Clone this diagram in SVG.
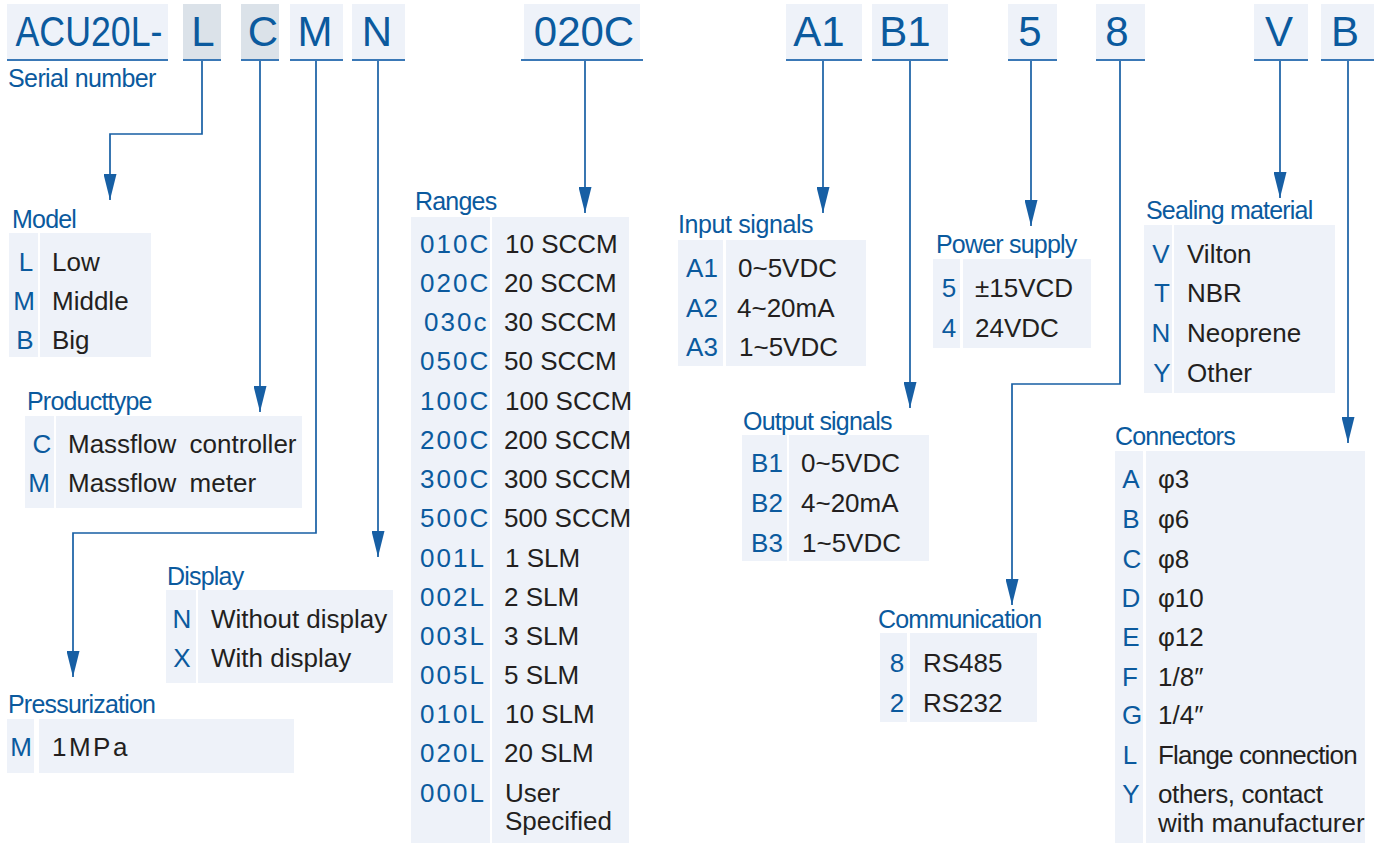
<svg xmlns="http://www.w3.org/2000/svg" width="1384" height="843" viewBox="0 0 1384 843">
<defs>
<style>
.bg{fill:#ffffff}
.cell{fill:#eef2f9}
.hbox{fill:#eef2f9}
.hdark{fill:#dbe2e9}
.uline{stroke:#3a78b6;stroke-width:2.2;fill:none}
.htxt{font-family:"Liberation Sans",Arial,sans-serif;font-size:42px;fill:#0b5a9e;text-anchor:middle}
.title{font-family:"Liberation Sans",Arial,sans-serif;font-size:25px;fill:#0b5a9e;letter-spacing:-0.8px}
.key{font-family:"Liberation Sans",Arial,sans-serif;font-size:26px;fill:#0b5a9e;text-anchor:middle}
.rkey{font-family:"Liberation Sans",Arial,sans-serif;font-size:26px;fill:#0b5a9e;letter-spacing:2px}
.val{font-family:"Liberation Sans",Arial,sans-serif;font-size:26px;fill:#231f20}
.conn{stroke:#175fa4;stroke-width:1.7;fill:none;marker-end:url(#arr)}
</style>
<marker id="arr" markerUnits="userSpaceOnUse" markerWidth="26" markerHeight="13" refX="26" refY="6.5" orient="auto" viewBox="0 0 26 13">
<path d="M0,0 L26,6.5 L0,13 z" fill="#175fa4"/>
</marker>
</defs>
<rect class="bg" x="0" y="0" width="1384" height="843"/>

<g id="header">
<g id="h-serial">
<rect class="hbox" x="7" y="4" width="161" height="56"/>
<line class="uline" x1="7" y1="60" x2="168" y2="60"/>
<text class="htxt" x="89" y="46" textLength="147" lengthAdjust="spacingAndGlyphs">ACU20L-</text>
<text class="title" x="8" y="87" style="letter-spacing:-0.6px">Serial number</text>
</g>
<g id="h-L"><rect class="hdark" x="183" y="4" width="38" height="56"/><line class="uline" x1="183" y1="60" x2="221" y2="60"/><text class="htxt" x="203" y="46">L</text></g>
<g id="h-C"><rect class="hdark" x="241" y="4" width="38" height="56"/><line class="uline" x1="241" y1="60" x2="279" y2="60"/><text class="htxt" x="263" y="46">C</text></g>
<g id="h-M"><rect class="hbox" x="290" y="4" width="53" height="56"/><line class="uline" x1="290" y1="60" x2="343" y2="60"/><text class="htxt" x="315" y="46">M</text></g>
<g id="h-N"><rect class="hbox" x="352" y="4" width="53" height="56"/><line class="uline" x1="352" y1="60" x2="405" y2="60"/><text class="htxt" x="377" y="46">N</text></g>
<g id="h-020C"><rect class="hbox" x="524" y="4" width="116" height="56"/><line class="uline" x1="521" y1="60" x2="643" y2="60"/><text class="htxt" x="584" y="46">020C</text></g>
<g id="h-A1"><rect class="hbox" x="786" y="4" width="76" height="56"/><line class="uline" x1="786" y1="60" x2="862" y2="60"/><text class="htxt" x="819" y="46">A1</text></g>
<g id="h-B1"><rect class="hbox" x="872" y="4" width="76" height="56"/><line class="uline" x1="872" y1="60" x2="948" y2="60"/><text class="htxt" x="905" y="46">B1</text></g>
<g id="h-5"><rect class="hbox" x="1008" y="4" width="49" height="56"/><line class="uline" x1="1008" y1="60" x2="1057" y2="60"/><text class="htxt" x="1030" y="46">5</text></g>
<g id="h-8"><rect class="hbox" x="1096" y="4" width="49" height="56"/><line class="uline" x1="1096" y1="60" x2="1145" y2="60"/><text class="htxt" x="1117" y="46">8</text></g>
<g id="h-V"><rect class="hbox" x="1254" y="4" width="54" height="56"/><line class="uline" x1="1254" y1="60" x2="1308" y2="60"/><text class="htxt" x="1279" y="46">V</text></g>
<g id="h-B"><rect class="hbox" x="1321" y="4" width="53" height="56"/><line class="uline" x1="1321" y1="60" x2="1374" y2="60"/><text class="htxt" x="1345" y="46">B</text></g>
</g>

<g id="connectors">
<path class="conn" d="M202,61 V134 H110 V200"/>
<path class="conn" d="M260,61 V412"/>
<path class="conn" d="M316,61 V533 H73 V677"/>
<path class="conn" d="M378,61 V557"/>
<path class="conn" d="M585,61 V213"/>
<path class="conn" d="M823,61 V213"/>
<path class="conn" d="M910,61 V408"/>
<path class="conn" d="M1031,61 V226"/>
<path class="conn" d="M1120,61 V384 H1012 V605"/>
<path class="conn" d="M1280,61 V198"/>
<path class="conn" d="M1348,61 V443"/>
</g>

<g id="model">
<text class="title" x="12" y="228">Model</text>
<rect class="cell" x="9" y="233" width="29" height="124"/>
<rect class="cell" x="40" y="233" width="111" height="124"/>
<text class="key" x="26" y="271">L</text><text class="val" x="52" y="271">Low</text>
<text class="key" x="24" y="310">M</text><text class="val" x="52" y="310">Middle</text>
<text class="key" x="25" y="349">B</text><text class="val" x="52" y="349">Big</text>
</g>

<g id="producttype">
<text class="title" x="27" y="410">Producttype</text>
<rect class="cell" x="25" y="416" width="29" height="92"/>
<rect class="cell" x="56" y="416" width="246" height="92"/>
<text class="key" x="42" y="453">C</text><text class="val" x="68" y="453" style="word-spacing:6px">Massflow controller</text>
<text class="key" x="39" y="492">M</text><text class="val" x="68" y="492" style="word-spacing:6px">Massflow meter</text>
</g>

<g id="display">
<text class="title" x="167" y="585">Display</text>
<rect class="cell" x="166" y="590" width="30" height="93"/>
<rect class="cell" x="198" y="590" width="195" height="93"/>
<text class="key" x="182" y="628">N</text><text class="val" x="211" y="628">Without display</text>
<text class="key" x="182" y="667">X</text><text class="val" x="211" y="667">With display</text>
</g>

<g id="pressurization">
<text class="title" x="8" y="713">Pressurization</text>
<rect class="cell" x="7" y="719" width="27" height="54"/>
<rect class="cell" x="39" y="719" width="255" height="54"/>
<text class="key" x="21" y="756">M</text><text class="val" x="52" y="756" style="letter-spacing:2.5px">1MPa</text>
</g>

<g id="ranges">
<text class="title" x="415" y="210">Ranges</text>
<rect class="cell" x="411" y="217" width="79" height="626"/>
<rect class="cell" x="492" y="217" width="137" height="626"/>
<text class="rkey" x="420" y="253">010C</text><text class="val" x="505" y="253">10 SCCM</text>
<text class="rkey" x="420" y="292">020C</text><text class="val" x="504" y="292">20 SCCM</text>
<text class="rkey" x="424" y="331">030c</text><text class="val" x="504" y="331">30 SCCM</text>
<text class="rkey" x="420" y="370">050C</text><text class="val" x="504" y="370">50 SCCM</text>
<text class="rkey" x="420" y="410">100C</text><text class="val" x="505" y="410">100 SCCM</text>
<text class="rkey" x="420" y="449">200C</text><text class="val" x="504" y="449">200 SCCM</text>
<text class="rkey" x="420" y="488">300C</text><text class="val" x="504" y="488">300 SCCM</text>
<text class="rkey" x="420" y="527">500C</text><text class="val" x="504" y="527">500 SCCM</text>
<text class="rkey" x="420" y="567">001L</text><text class="val" x="505" y="567">1 SLM</text>
<text class="rkey" x="420" y="606">002L</text><text class="val" x="504" y="606">2 SLM</text>
<text class="rkey" x="420" y="645">003L</text><text class="val" x="504" y="645">3 SLM</text>
<text class="rkey" x="420" y="684">005L</text><text class="val" x="504" y="684">5 SLM</text>
<text class="rkey" x="420" y="723">010L</text><text class="val" x="505" y="723">10 SLM</text>
<text class="rkey" x="420" y="762">020L</text><text class="val" x="504" y="762">20 SLM</text>
<text class="rkey" x="420" y="802">000L</text><text class="val" x="505" y="802">User</text>
<text class="val" x="505" y="830">Specified</text>
</g>

<g id="input">
<text class="title" x="678" y="233" style="letter-spacing:-0.4px">Input signals</text>
<rect class="cell" x="678" y="240" width="45" height="126"/>
<rect class="cell" x="726" y="240" width="140" height="126"/>
<text class="key" x="702" y="277">A1</text><text class="val" x="738" y="277">0~5VDC</text>
<text class="key" x="702" y="317">A2</text><text class="val" x="737" y="317">4~20mA</text>
<text class="key" x="702" y="356">A3</text><text class="val" x="739" y="356">1~5VDC</text>
</g>

<g id="power">
<text class="title" x="936" y="253">Power supply</text>
<rect class="cell" x="933" y="259" width="27" height="89"/>
<rect class="cell" x="963" y="259" width="128" height="89"/>
<text class="key" x="949" y="297">5</text><text class="val" x="975" y="297">±15VCD</text>
<text class="key" x="949" y="337">4</text><text class="val" x="975" y="337">24VDC</text>
</g>

<g id="output">
<text class="title" x="743" y="430">Output signals</text>
<rect class="cell" x="742" y="435" width="45" height="126"/>
<rect class="cell" x="789" y="435" width="140" height="126"/>
<text class="key" x="767" y="472">B1</text><text class="val" x="801" y="472">0~5VDC</text>
<text class="key" x="767" y="512">B2</text><text class="val" x="801" y="512">4~20mA</text>
<text class="key" x="767" y="552">B3</text><text class="val" x="802" y="552">1~5VDC</text>
</g>

<g id="communication">
<text class="title" x="878" y="628">Communication</text>
<rect class="cell" x="880" y="633" width="27" height="89"/>
<rect class="cell" x="910" y="633" width="127" height="89"/>
<text class="key" x="897" y="672">8</text><text class="val" x="923" y="672">RS485</text>
<text class="key" x="897" y="712">2</text><text class="val" x="923" y="712">RS232</text>
</g>

<g id="sealing">
<text class="title" x="1146" y="219">Sealing material</text>
<rect class="cell" x="1144" y="225" width="28" height="168"/>
<rect class="cell" x="1174" y="225" width="161" height="168"/>
<text class="key" x="1161" y="263">V</text><text class="val" x="1187" y="263">Vilton</text>
<text class="key" x="1162" y="302">T</text><text class="val" x="1187" y="302">NBR</text>
<text class="key" x="1161" y="342">N</text><text class="val" x="1187" y="342">Neoprene</text>
<text class="key" x="1162" y="382">Y</text><text class="val" x="1187" y="382">Other</text>
</g>

<g id="connectors-table">
<text class="title" x="1115" y="445">Connectors</text>
<rect class="cell" x="1115" y="451" width="28" height="392"/>
<rect class="cell" x="1146" y="451" width="219" height="392"/>
<text class="key" x="1131" y="488">A</text><text class="val" x="1158" y="488">φ3</text>
<text class="key" x="1131" y="528">B</text><text class="val" x="1158" y="528">φ6</text>
<text class="key" x="1132" y="568">C</text><text class="val" x="1158" y="568">φ8</text>
<text class="key" x="1131" y="607">D</text><text class="val" x="1158" y="607">φ10</text>
<text class="key" x="1131" y="646">E</text><text class="val" x="1158" y="646">φ12</text>
<text class="key" x="1130" y="686">F</text><text class="val" x="1158" y="686">1/8″</text>
<text class="key" x="1132" y="724">G</text><text class="val" x="1158" y="724">1/4″</text>
<text class="key" x="1130" y="764">L</text><text class="val" x="1158" y="764" style="letter-spacing:-0.8px">Flange connection</text>
<text class="key" x="1131" y="803">Y</text><text class="val" x="1158" y="803" style="letter-spacing:-0.4px">others, contact</text>
<text class="val" x="1158" y="832">with manufacturer</text>
</g>
</svg>
